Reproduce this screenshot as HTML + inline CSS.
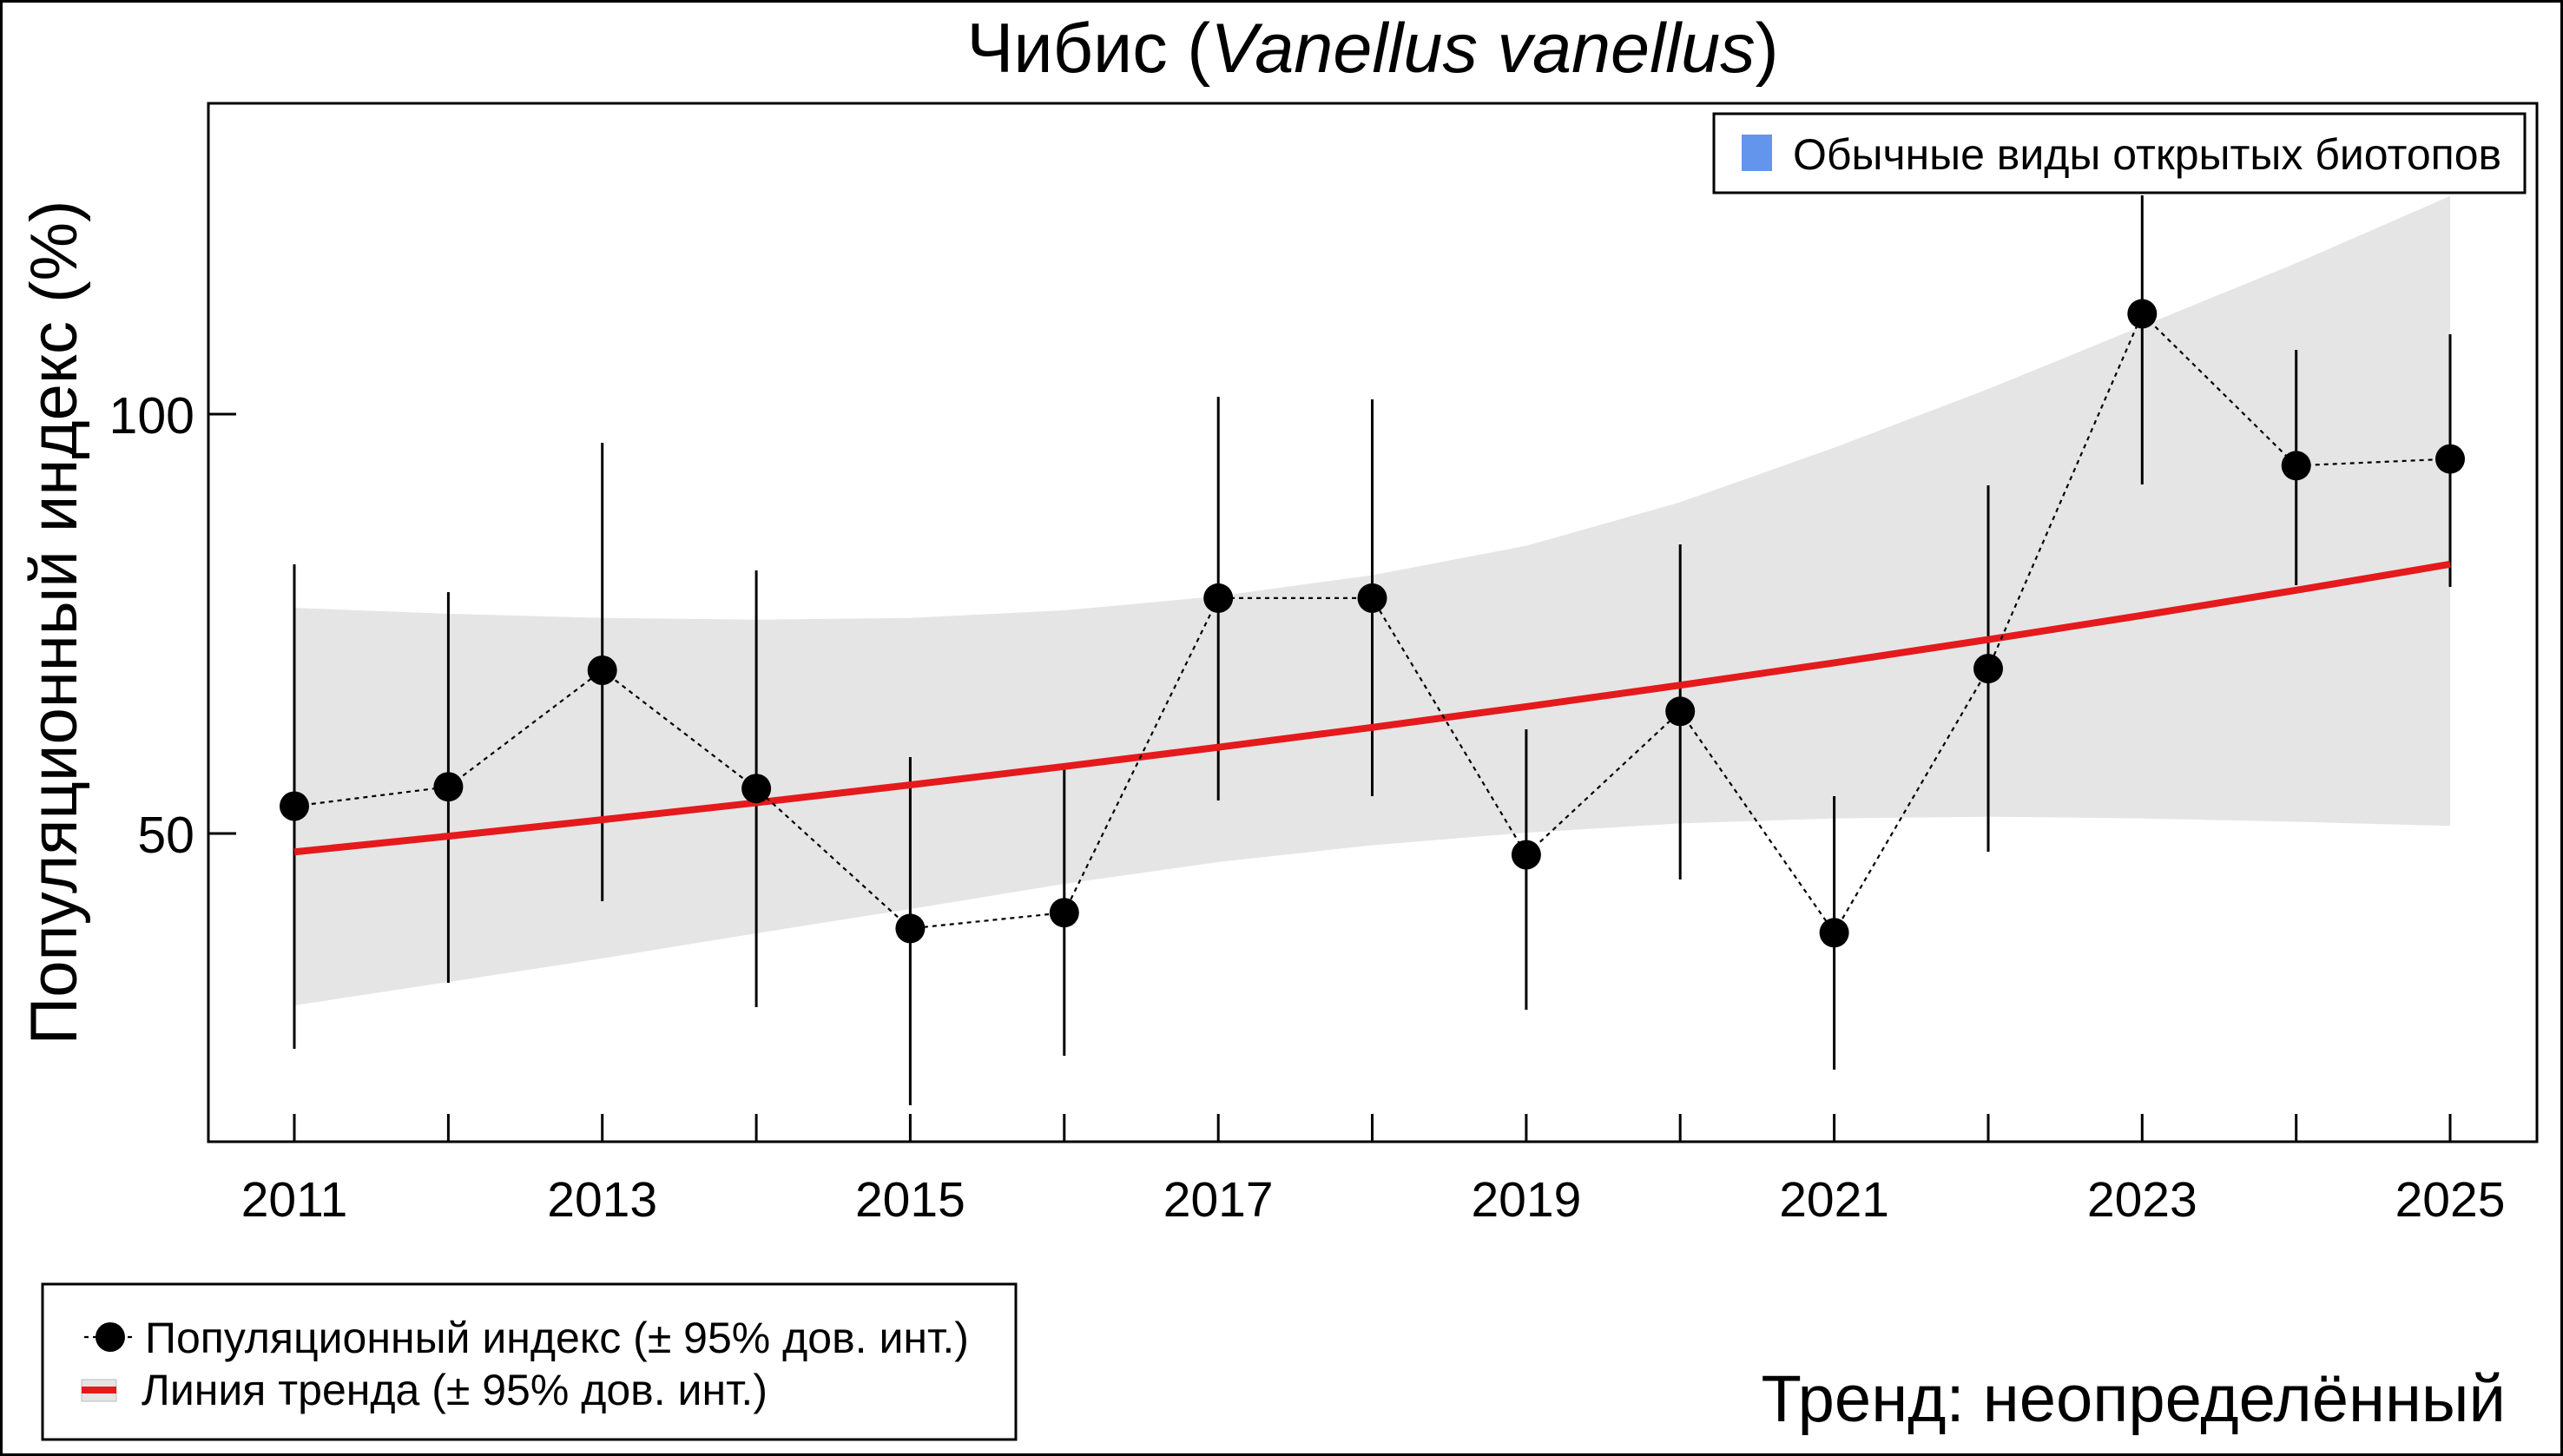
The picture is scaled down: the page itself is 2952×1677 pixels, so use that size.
<!DOCTYPE html>
<html><head><meta charset="utf-8"><style>
html,body{margin:0;padding:0;background:#fff}
svg{display:block}
text{font-family:"Liberation Sans",sans-serif;fill:#000}
</style></head><body>
<svg width="2952" height="1677" viewBox="0 0 2952 1677" xmlns="http://www.w3.org/2000/svg">
<rect x="1.5" y="1.5" width="2949" height="1674" fill="#fff" stroke="#000" stroke-width="3"/>
<text x="1581" y="83" font-size="81" text-anchor="middle">Чибис (<tspan font-style="italic">Vanellus vanellus</tspan>)</text>
<g transform="translate(339,960) scale(177.36,-9.66)">
<polygon fill="#e5e5e5" points="0,26.9 1,26.2 2,25.7 3,25.5 4,25.7 5,26.6 6,28.3 7,30.8 8,34.3 9,39.5 10,46 11,53 12,60.5 13,68 14,76 14,0.9 13,1.4 12,1.8 11,2 10,1.8 9,1.2 8,0.1 7,-1.4 6,-3.4 5,-6 4,-9 3,-11.9 2,-14.9 1,-17.7 0,-20.5"/>
</g>
<g stroke="#000" stroke-width="3">
<line x1="339" y1="650" x2="339" y2="1208"/>
<line x1="516.4" y1="682" x2="516.4" y2="1132"/>
<line x1="693.7" y1="510" x2="693.7" y2="1038"/>
<line x1="871.1" y1="657" x2="871.1" y2="1160"/>
<line x1="1048.4" y1="872" x2="1048.4" y2="1273"/>
<line x1="1225.8" y1="885" x2="1225.8" y2="1216"/>
<line x1="1403.2" y1="457" x2="1403.2" y2="922"/>
<line x1="1580.5" y1="460" x2="1580.5" y2="917"/>
<line x1="1757.9" y1="840" x2="1757.9" y2="1163"/>
<line x1="1935.2" y1="627" x2="1935.2" y2="1013"/>
<line x1="2112.6" y1="917" x2="2112.6" y2="1232"/>
<line x1="2290" y1="559" x2="2290" y2="981"/>
<line x1="2467.3" y1="225" x2="2467.3" y2="558"/>
<line x1="2644.7" y1="403" x2="2644.7" y2="674"/>
<line x1="2822" y1="385" x2="2822" y2="676"/>
</g>
<g transform="translate(339,960) scale(177.36,-9.66)">
<polyline fill="none" stroke="#e41a1c" stroke-width="8" vector-effect="non-scaling-stroke" points="0,-2.2 1,-0.32 2,1.64 3,3.67 4,5.79 5,7.99 6,10.28 7,12.65 8,15.12 9,17.68 10,20.35 11,23.12 12,26.01 13,29.0 14,32.11"/>
</g>
<polyline fill="none" stroke="#000" stroke-width="2.2" stroke-dasharray="5 5" points="339,928.5 516.4,906.2 693.7,772 871.1,908.2 1048.4,1069.4 1225.8,1051.2 1403.2,688.9 1580.5,688.9 1757.9,984.5 1935.2,819.3 2112.6,1074.3 2290,770.1 2467.3,361.4 2644.7,536.3 2822,528.6"/>
<g fill="#000">
<circle cx="339" cy="928.5" r="17"/><circle cx="516.4" cy="906.2" r="17"/><circle cx="693.7" cy="772" r="17"/><circle cx="871.1" cy="908.2" r="17"/><circle cx="1048.4" cy="1069.4" r="17"/><circle cx="1225.8" cy="1051.2" r="17"/><circle cx="1403.2" cy="688.9" r="17"/><circle cx="1580.5" cy="688.9" r="17"/><circle cx="1757.9" cy="984.5" r="17"/><circle cx="1935.2" cy="819.3" r="17"/><circle cx="2112.6" cy="1074.3" r="17"/><circle cx="2290" cy="770.1" r="17"/><circle cx="2467.3" cy="361.4" r="17"/><circle cx="2644.7" cy="536.3" r="17"/><circle cx="2822" cy="528.6" r="17"/>
</g>
<rect x="1974" y="131" width="934" height="91" fill="#fff" stroke="#000" stroke-width="3"/>
<rect x="2006" y="155" width="35" height="42" fill="#6495ed"/>
<text x="2065" y="195" font-size="50">Обычные виды открытых биотопов</text>
<rect x="240" y="119" width="2682" height="1196" fill="none" stroke="#000" stroke-width="3"/>
<g stroke="#000" stroke-width="3">
<line x1="240" y1="477" x2="272" y2="477"/><line x1="240" y1="960" x2="272" y2="960"/>
<line x1="339" y1="1315" x2="339" y2="1283"/><line x1="516.4" y1="1315" x2="516.4" y2="1283"/><line x1="693.7" y1="1315" x2="693.7" y2="1283"/><line x1="871.1" y1="1315" x2="871.1" y2="1283"/><line x1="1048.4" y1="1315" x2="1048.4" y2="1283"/><line x1="1225.8" y1="1315" x2="1225.8" y2="1283"/><line x1="1403.2" y1="1315" x2="1403.2" y2="1283"/><line x1="1580.5" y1="1315" x2="1580.5" y2="1283"/><line x1="1757.9" y1="1315" x2="1757.9" y2="1283"/><line x1="1935.2" y1="1315" x2="1935.2" y2="1283"/><line x1="2112.6" y1="1315" x2="2112.6" y2="1283"/><line x1="2290" y1="1315" x2="2290" y2="1283"/><line x1="2467.3" y1="1315" x2="2467.3" y2="1283"/><line x1="2644.7" y1="1315" x2="2644.7" y2="1283"/><line x1="2822" y1="1315" x2="2822" y2="1283"/>
</g>
<g font-size="57" text-anchor="middle">
<text x="339" y="1401">2011</text><text x="693.7" y="1401">2013</text><text x="1048.4" y="1401">2015</text><text x="1403.2" y="1401">2017</text><text x="1757.9" y="1401">2019</text><text x="2112.6" y="1401">2021</text><text x="2467.3" y="1401">2023</text><text x="2822" y="1401">2025</text>
</g>
<g font-size="59" text-anchor="end">
<text x="224" y="499">100</text><text x="224" y="982">50</text>
</g>
<text transform="translate(88,717) rotate(-90)" font-size="76" text-anchor="middle">Популяционный индекс (%)</text>
<rect x="49" y="1479" width="1121" height="179" fill="#fff" stroke="#000" stroke-width="3"/>
<line x1="97" y1="1540" x2="152" y2="1540" stroke="#000" stroke-width="2.2" stroke-dasharray="5 5"/>
<circle cx="127" cy="1540" r="17" fill="#000"/>
<text x="167" y="1558" font-size="50">Популяционный индекс (± 95% дов. инт.)</text>
<rect x="94" y="1589" width="40" height="25" fill="#e5e5e5" stroke="#bbb" stroke-width="1"/>
<line x1="94" y1="1601" x2="134" y2="1601" stroke="#e41a1c" stroke-width="8"/>
<text x="163" y="1618" font-size="50">Линия тренда (± 95% дов. инт.)</text>
<text x="2886" y="1637" font-size="76" text-anchor="end">Тренд: неопределённый</text>
</svg>
</body></html>
